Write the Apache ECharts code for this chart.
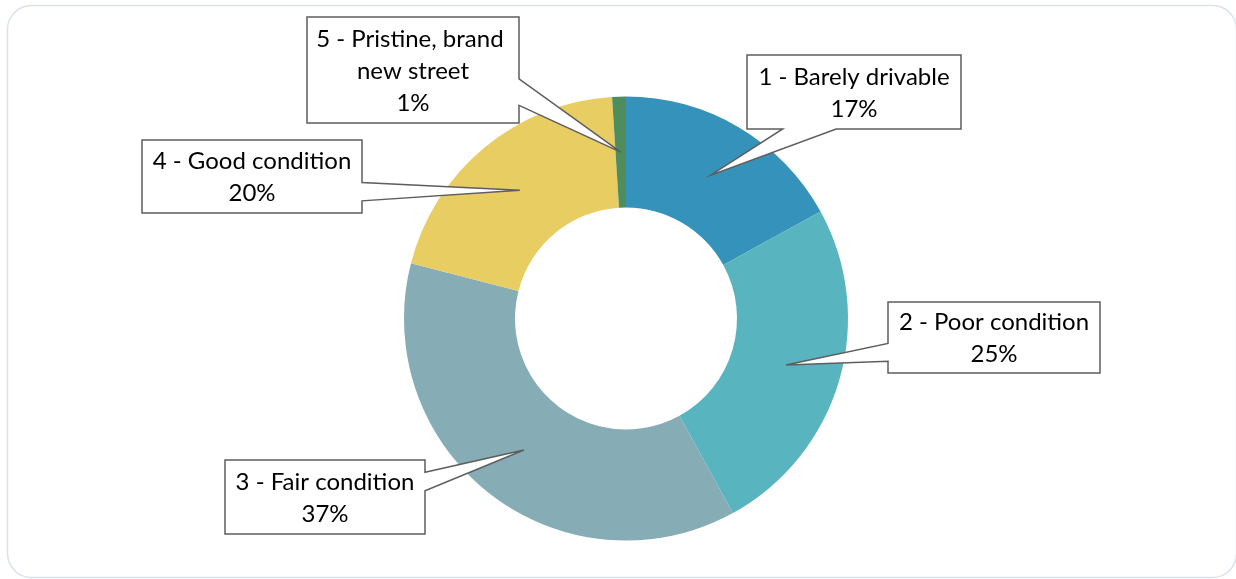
<!DOCTYPE html>
<html>
<head>
<meta charset="utf-8">
<script src="https://cdn.jsdelivr.net/npm/echarts@6/dist/echarts.min.js"></script>
<style>
  html, body { margin: 0; padding: 0; background: #ffffff; }
  #chart { width: 1236px; height: 579px; }
</style>
</head>
<body>
<div id="chart"></div>
<script>
// Road condition ratings, share of responses (%)
const categories = [
  '1 - Barely drivable',
  '2 - Poor condition',
  '3 - Fair condition',
  '4 - Good condition',
  '5 - Pristine, brand new street'
];
const shares = [17, 25, 37, 20, 1];
const sliceColors = ['#3593BB', '#58B4BF', '#86ACB6', '#E8CD62', '#4F8C5E'];

// Callout boxes per slice: [left, top, width, height]
const calloutBoxes = [
  [747, 55, 214, 74],
  [888, 302, 212, 71],
  [225, 460, 200, 74],
  [142, 140, 220, 73],
  [307, 17, 212, 106]
];

const FONT = '24px Lato, "DejaVu Sans", sans-serif';

const chart = echarts.init(document.getElementById('chart'), null, { renderer: 'canvas' });

chart.setOption({
  animation: false,
  backgroundColor: '#ffffff',
  series: [{
    type: 'pie',
    center: [626, 318.5],
    radius: [111, 222],
    startAngle: 90,
    clockwise: true,
    avoidLabelOverlap: false,
    label: { show: false },
    labelLine: { show: false },
    emphasis: { disabled: true },
    itemStyle: { borderWidth: 0 },
    data: categories.map((name, i) => ({
      name,
      value: shares[i],
      itemStyle: { color: sliceColors[i] }
    }))
  }]
});

// Rectangle callout with a wedge pointing at the tip (wedgeRectCallout style)
function calloutPoints(box, tip) {
  const [x, y, w, h] = box;
  const dx = tip[0] - (x + w / 2);
  const dy = tip[1] - (y + h / 2);
  const vertical = Math.abs(dy) > Math.abs(dx * h / w);
  const lo = [2 / 12, 5 / 12], hi = [7 / 12, 10 / 12];
  const pts = [[x, y]];
  if (vertical && dy < 0) {
    const f = dx > 0 ? hi : lo;
    pts.push([x + w * f[0], y], tip, [x + w * f[1], y]);
  }
  pts.push([x + w, y]);
  if (!vertical && dx > 0) {
    const f = dy > 0 ? hi : lo;
    pts.push([x + w, y + h * f[0]], tip, [x + w, y + h * f[1]]);
  }
  pts.push([x + w, y + h]);
  if (vertical && dy > 0) {
    const f = dx > 0 ? hi : lo;
    pts.push([x + w * f[1], y + h], tip, [x + w * f[0], y + h]);
  }
  pts.push([x, y + h]);
  if (!vertical && dx < 0) {
    const f = dy > 0 ? hi : lo;
    pts.push([x, y + h * f[1]], tip, [x, y + h * f[0]]);
  }
  return pts;
}

const pieData = chart.getModel().getSeriesByIndex(0).getData();
const graphics = [{
  type: 'rect',
  z: 0,
  silent: true,
  shape: { x: 7.5, y: 5.5, width: 1229, height: 572, r: 24 },
  style: { fill: 'none', stroke: '#D9E2EC', lineWidth: 1.5 }
}];

categories.forEach((name, i) => {
  const lay = pieData.getItemLayout(i);
  const mid = (lay.startAngle + lay.endAngle) / 2;
  const rm = (lay.r + lay.r0) / 2;
  const tip = [lay.cx + rm * Math.cos(mid), lay.cy + rm * Math.sin(mid)];
  const box = calloutBoxes[i];
  graphics.push({
    type: 'polygon',
    z: 10,
    silent: true,
    shape: { points: calloutPoints(box, tip) },
    style: { fill: '#ffffff', stroke: '#5E5E5E', lineWidth: 1.5, lineJoin: 'miter' }
  });
  graphics.push({
    type: 'text',
    z: 11,
    silent: true,
    x: box[0] + box[2] / 2,
    y: box[1] + box[3] / 2 + 1,
    style: {
      text: name + '\n' + shares[i] + '%',
      width: box[2] - 8,
      overflow: 'break',
      font: FONT,
      lineHeight: 32,
      fill: '#000000',
      align: 'center',
      verticalAlign: 'middle'
    }
  });
});

chart.setOption({ graphic: graphics });
</script>
</body>
</html>
